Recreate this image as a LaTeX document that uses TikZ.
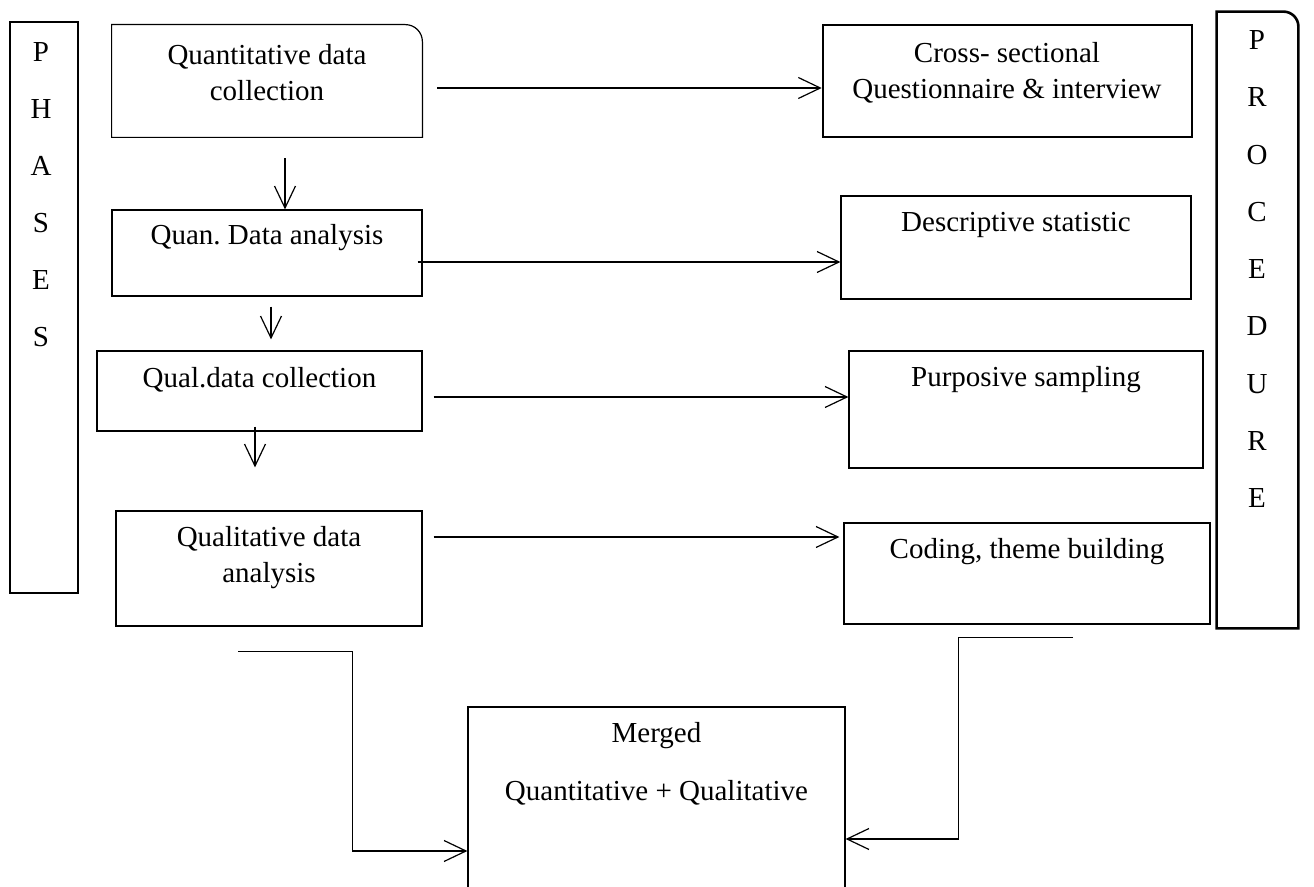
\documentclass[tikz,border=0pt]{standalone}
\usepackage{fontspec}
\setmainfont{Liberation Serif}
\usetikzlibrary{arrows.meta, positioning, fit}
\frenchspacing

\begin{document}
\begin{tikzpicture}[
    x=0.5pt, y=-0.5pt,
    every node/.style={font=\fontsize{14.5}{18}\selectfont},
    box/.style={draw, line width=0.6pt, inner sep=0pt},
    heavybox/.style={draw, line width=1.3pt, inner sep=0pt},
    plainbox/.style={inner sep=0pt},
    txt/.style={align=center, inner sep=0pt},
    letter/.style={inner sep=0pt},
    arr/.style={
        -{Straight Barb[length=11pt, width=10.5pt]},
        line width=0.6pt
    }
]
\useasboundingbox (0,0) rectangle (1314,887);
\clip (0,0) rectangle (1314,887);

% Side bars
\node[heavybox, fit={(10,22) (78,593)}] (phases) {};
\node[plainbox, fit={(1217,12) (1298,628)}] (proc) {};
\draw[line width=1.3pt] (proc.south west) -- (proc.north west)
    -- ([xshift=-7.5pt]proc.north east) arc[start angle=90, end angle=0, radius=7.5pt]
    -- (proc.south east) -- cycle;

\foreach \ch [count=\i from 0] in {P,H,A,S,E,S}
    \node[letter] (ph\i) at (41, 52+57*\i) {\ch};
\foreach \ch [count=\i from 0] in {P,R,O,C,E,D,U,R,E}
    \node[letter] (pr\i) at (1257, 40+57.3*\i) {\ch};

% Phase boxes
\node[plainbox, fit={(112,25) (422,137)}] (qcoll) {};
\draw[line width=0.6pt] (qcoll.south west) -- (qcoll.north west)
    -- ([xshift=-8.5pt]qcoll.north east) arc[start angle=90, end angle=0, radius=8.5pt]
    -- (qcoll.south east) -- cycle;
\node[box, fit={(112,210) (422,296)}] (qanal) {};
\node[box, fit={(97,351) (422,431)}] (lcoll) {};
\node[box, fit={(116,511) (422,626)}] (lanal) {};

% Procedure boxes
\node[heavybox, fit={(823,25) (1192,137)}] (cross) {};
\node[box, fit={(841,196) (1191,299)}] (desc) {};
\node[box, fit={(849,351) (1203,468)}] (purp) {};
\node[box, fit={(844,523) (1210,624)}] (coding) {};

% Merged box
\node[box, fit={(468,707) (845,960)}] (merged) {};

% Texts
\node[txt] (t1) at (267,72.5) {Quantitative data\\collection};
\node[txt] (t2) at (267,238) {Quan. Data analysis};
\node[txt] (t3) at (259.5,380) {Qual.data collection};
\node[txt] (t4) at (269,558) {Qualitative data\\analysis};
\node[txt] (t5) at (1007,72.5) {Cross- sectional\\Questionnaire \& interview};
\node[txt] (t6) at (1016,225) {Descriptive statistic};
\node[txt] (t7) at (1026,380) {Purposive sampling};
\node[txt] (t8) at (1027,552) {Coding, theme building};
\node[txt] (t9) at (656.5,764) {Merged\\[11pt]Quantitative + Qualitative};

% Arrows between phases
\draw[arr] ([xshift=9pt, yshift=-10.5pt]qcoll.south) -- ([xshift=9pt]qanal.north);
\draw[arr] ([xshift=2pt, yshift=-5pt]qanal.south) -- ([xshift=5.75pt, yshift=5.5pt]lcoll.north);
\draw[arr] ([xshift=-2.25pt, yshift=2.5pt]lcoll.south) -- ([xshift=-7pt, yshift=21.5pt]lanal.north);

% Arrows to procedures
\draw[arr] ([xshift=7.5pt, yshift=-3.5pt]qcoll.east) -- ([yshift=-3.5pt]cross.west);
\draw[arr] ([xshift=-2.5pt, yshift=-4.5pt]qanal.east) -- ([yshift=-7.25pt]desc.west);
\draw[arr] ([xshift=5.5pt, yshift=-3pt]lcoll.east) -- ([yshift=6.25pt]purp.west);
\draw[arr] ([xshift=5.5pt, yshift=15.75pt]lanal.east) -- ([xshift=-2pt, yshift=18.25pt]coding.west);

% Merging
\coordinate (lstart) at ([xshift=-15.5pt, yshift=-12.5pt]lanal.south);
\coordinate (rstart) at ([xshift=23pt, yshift=-6.5pt]coding.south);
\draw[arr] (lstart) -| ([xshift=-57.5pt, yshift=-8.75pt]merged.west) -- ([yshift=-8.75pt]merged.west);
\draw[arr] (rstart) -| ([xshift=56.5pt, yshift=-2.75pt]merged.east) -- ([yshift=-2.75pt]merged.east);

\end{tikzpicture}
\end{document}
